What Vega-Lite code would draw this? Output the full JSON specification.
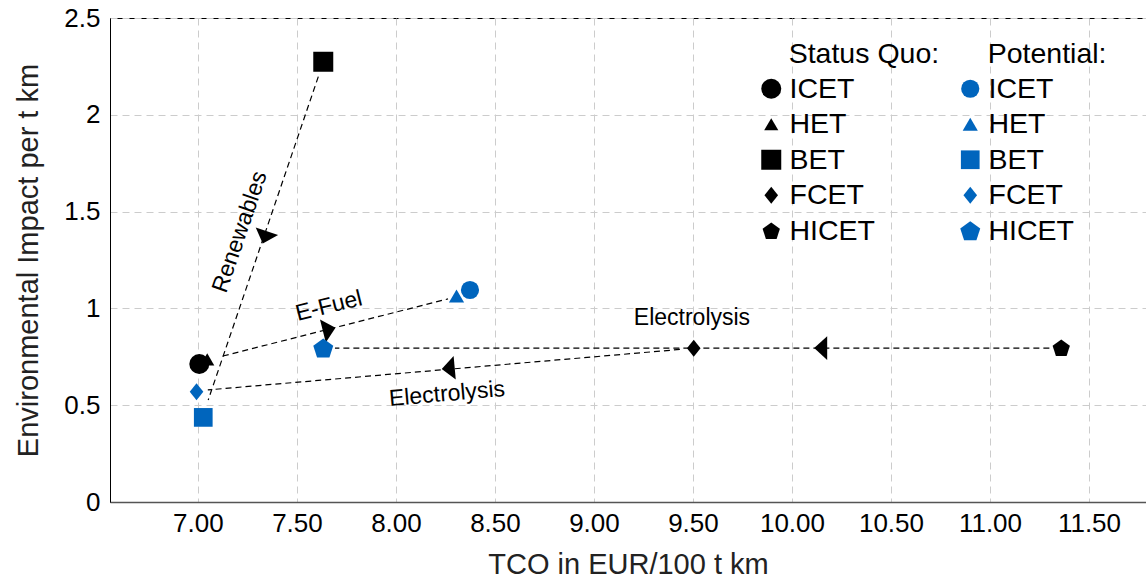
{
  "$schema": "https://vega.github.io/schema/vega-lite/v6.json",
  "width": 1036,
  "height": 484,
  "autosize": "none",
  "padding": {"left": 110, "top": 18, "right": 0, "bottom": 82},
  "config": {
    "font": "Liberation Sans",
    "view": {"stroke": "#000000", "strokeWidth": 1},
    "axis": {
      "grid": true,
      "gridColor": "#cccccc",
      "gridDash": [7, 5],
      "gridWidth": 1,
      "ticks": false,
      "labelFont": "Liberation Sans",
      "labelFontSize": 26,
      "labelColor": "#000000",
      "titleFont": "Liberation Sans",
      "titleFontSize": 29,
      "titleFontWeight": "normal",
      "titleColor": "#222222",
      "domainColor": "#000000"
    },
    "legend": {
      "titleFont": "Liberation Sans",
      "labelFont": "Liberation Sans",
      "titleFontSize": 28.5,
      "labelFontSize": 28.5,
      "titleFontWeight": "normal",
      "titleColor": "#000000",
      "labelColor": "#000000",
      "titleLimit": 400,
      "labelLimit": 400,
      "rowPadding": 6.5,
      "titlePadding": 6,
      "padding": 0,
      "labelOffset": 4,
      "symbolStrokeWidth": 0
    }
  },
  "datasets": {
    "statusquo": [
      {"type": "ICET", "tco": 7.007, "impact": 0.713},
      {"type": "HET", "tco": 7.047, "impact": 0.737},
      {"type": "BET", "tco": 7.633, "impact": 2.274},
      {"type": "FCET", "tco": 9.504, "impact": 0.794},
      {"type": "HICET", "tco": 11.36, "impact": 0.797}
    ],
    "potential": [
      {"type": "HET", "tco": 8.306, "impact": 1.064},
      {"type": "ICET", "tco": 8.374, "impact": 1.095},
      {"type": "BET", "tco": 7.027, "impact": 0.437},
      {"type": "FCET", "tco": 6.993, "impact": 0.57},
      {"type": "HICET", "tco": 7.633, "impact": 0.795}
    ],
    "paths": [
      {"name": "Renewables", "x1": 7.608, "y1": 2.197, "x2": 7.052, "y2": 0.527},
      {"name": "E-Fuel", "x1": 7.126, "y1": 0.754, "x2": 8.263, "y2": 1.049},
      {"name": "Electrolysis FCET", "x1": 9.434, "y1": 0.788, "x2": 7.05, "y2": 0.579},
      {"name": "Electrolysis HICET", "x1": 11.3, "y1": 0.795, "x2": 7.692, "y2": 0.795}
    ],
    "arrows": [
      {"name": "Renewables", "x": 7.338, "y": 1.367, "angle": 108.5},
      {"name": "E-Fuel", "x": 7.663, "y": 0.892, "angle": 345.8},
      {"name": "Electrolysis FCET", "x": 8.264, "y": 0.69, "angle": 174.8},
      {"name": "Electrolysis HICET", "x": 10.145, "y": 0.795, "angle": 180}
    ],
    "labels": [
      {"text": "Renewables", "x": 7.212, "y": 1.395, "angle": -71},
      {"text": "E-Fuel", "x": 7.662, "y": 1.012, "angle": -14},
      {"text": "Electrolysis", "x": 8.258, "y": 0.558, "angle": -5},
      {"text": "Electrolysis", "x": 9.495, "y": 0.95, "angle": 0}
    ]
  },
  "encoding": {
    "x": {
      "type": "quantitative",
      "scale": {"domain": [6.556, 11.788], "nice": false, "zero": false},
      "axis": {
        "title": "TCO in EUR/100 t km",
        "values": [7, 7.5, 8, 8.5, 9, 9.5, 10, 10.5, 11, 11.5],
        "format": ".2f",
        "labelPadding": 8,
        "titlePadding": 14,
        "domainColor": "#555555",
        "domainWidth": 1.5
      }
    },
    "y": {
      "type": "quantitative",
      "scale": {"domain": [0, 2.5], "nice": false},
      "axis": {
        "title": "Environmental Impact per t km",
        "values": [0, 0.5, 1, 1.5, 2, 2.5],
        "format": "~g",
        "labelPadding": 10,
        "titlePadding": 20
      }
    }
  },
  "layer": [
    {
      "data": {"name": "paths"},
      "mark": {"type": "rule", "color": "#000000", "strokeWidth": 1.2, "strokeDash": [6, 4]},
      "encoding": {
        "x": {"field": "x1", "type": "quantitative"},
        "y": {"field": "y1", "type": "quantitative"},
        "x2": {"field": "x2"},
        "y2": {"field": "y2"}
      }
    },
    {
      "data": {"name": "arrows"},
      "mark": {"type": "point", "filled": true, "color": "#000000", "opacity": 1, "shape": "M0.55,0L-0.55,-1L-0.55,1Z", "size": 560},
      "encoding": {
        "x": {"field": "x", "type": "quantitative"},
        "y": {"field": "y", "type": "quantitative"},
        "angle": {"field": "angle", "type": "quantitative", "scale": null}
      }
    },
    {
      "data": {"name": "statusquo"},
      "mark": {"type": "point", "filled": true, "color": "#000000", "opacity": 1},
      "encoding": {
        "x": {"field": "tco", "type": "quantitative"},
        "y": {"field": "impact", "type": "quantitative"},
        "shape": {
          "field": "type", "type": "nominal",
          "scale": {
            "domain": ["ICET", "HET", "BET", "FCET", "HICET"],
            "range": ["circle", "triangle-up", "square", "M0,-1L0.8,0L0,1L-0.8,0Z", "M0,-0.905L0.951,-0.214L0.588,0.905L-0.588,0.905L-0.951,-0.214Z"]
          },
          "legend": {"title": "\u200b\u00a0\u00a0\u00a0\u00a0Status Quo:", "orient": "none", "legendX": 647, "legendY": 22}
        },
        "size": {
          "field": "type", "type": "nominal",
          "scale": {
            "type": "ordinal",
            "domain": ["ICET", "HET", "BET", "FCET", "HICET"],
            "range": [400, 200, 400, 289, 330]
          },
          "legend": {"title": "\u200b\u00a0\u00a0\u00a0\u00a0Status Quo:", "orient": "none", "legendX": 647, "legendY": 22}
        }
      }
    },
    {
      "data": {"name": "potential"},
      "mark": {"type": "point", "filled": true, "color": "#0065BD", "opacity": 1},
      "encoding": {
        "x": {"field": "tco", "type": "quantitative"},
        "y": {"field": "impact", "type": "quantitative"},
        "shape": {
          "field": "type", "type": "nominal",
          "scale": {
            "domain": ["ICET", "HET", "BET", "FCET", "HICET"],
            "range": ["circle", "triangle-up", "square", "M0,-1L0.8,0L0,1L-0.8,0Z", "M0,-0.905L0.951,-0.214L0.588,0.905L-0.588,0.905L-0.951,-0.214Z"]
          },
          "legend": {"title": "\u200b\u00a0\u00a0\u00a0\u00a0Potential:", "orient": "none", "legendX": 846, "legendY": 22}
        },
        "size": {
          "field": "type", "type": "nominal",
          "scale": {
            "type": "ordinal",
            "domain": ["ICET", "HET", "BET", "FCET", "HICET"],
            "range": [330, 230, 350, 289, 441]
          },
          "legend": {"title": "\u200b\u00a0\u00a0\u00a0\u00a0Potential:", "orient": "none", "legendX": 846, "legendY": 22}
        }
      }
    },
    {
      "data": {"name": "labels"},
      "mark": {"type": "text", "font": "Liberation Sans", "fontSize": 23, "color": "#000000", "align": "center", "baseline": "middle"},
      "encoding": {
        "x": {"field": "x", "type": "quantitative"},
        "y": {"field": "y", "type": "quantitative"},
        "text": {"field": "text"},
        "angle": {"field": "angle", "type": "quantitative", "scale": null}
      }
    }
  ],
  "resolve": {
    "scale": {"shape": "independent", "size": "independent"},
    "legend": {"shape": "independent", "size": "independent"}
  }
}
